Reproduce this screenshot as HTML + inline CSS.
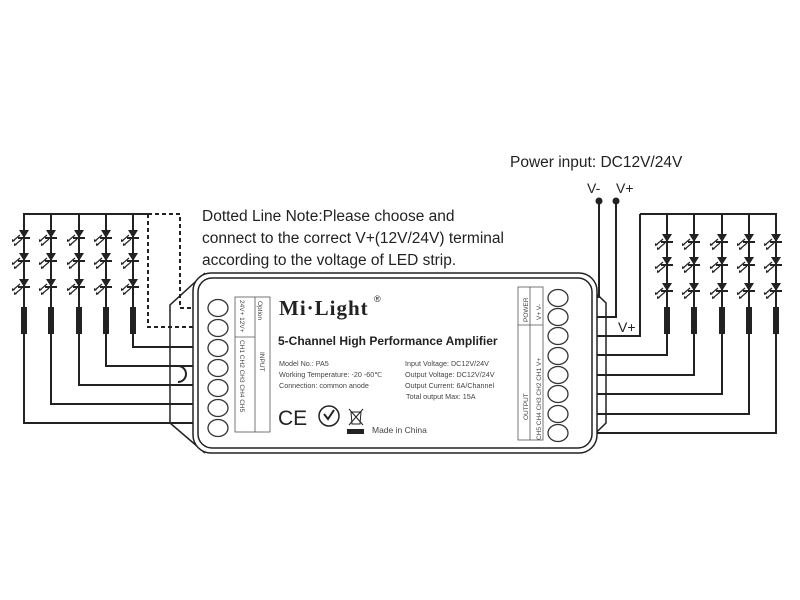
<!DOCTYPE html>
<html><head><meta charset="utf-8"><style>
html,body{margin:0;padding:0;background:#fff;}
svg{display:block;font-family:"Liberation Sans",sans-serif;}
</style></head><body>
<svg width="800" height="600" viewBox="0 0 800 600" xmlns="http://www.w3.org/2000/svg">
<defs>
<g id="led">
 <polygon points="-5,-6 5,-6 0,2" fill="#222"/>
 <line x1="-6" y1="2" x2="6" y2="2" stroke="#222" stroke-width="2"/>
 <line x1="-4" y1="-1" x2="-11" y2="5" stroke="#222" stroke-width="1.2"/>
 <line x1="-2" y1="3" x2="-9" y2="9" stroke="#222" stroke-width="1.2"/>
 <polygon points="-12,6 -12,3 -9,5" fill="#222"/>
 <polygon points="-10,10 -10,7 -7,9" fill="#222"/>
</g>
</defs>
<rect width="800" height="600" fill="#fff"/>
<g stroke="#222" stroke-width="2" fill="none">
 <line x1="23" y1="214" x2="148" y2="214"/>
 <path d="M133,214V347H195"/>
 <path d="M106,214V366H178 a8,8 0 0 1 0,16 M178,366H195"/>
 <path d="M79,214V385H195"/>
 <path d="M51,214V404H195"/>
 <path d="M24,214V423H195"/>
 <line x1="640" y1="214" x2="777" y2="214"/>
 <path d="M640,214V336H583"/>
 <path d="M667,214V355H583"/>
 <path d="M694,214V375H583"/>
 <path d="M722,214V394H583"/>
 <path d="M749,214V414H583"/>
 <path d="M776,214V433H583"/>
 <path d="M599,201V297H583"/>
 <path d="M616,201V317H583"/>
</g>
<g stroke="#222" stroke-width="2" fill="none" stroke-dasharray="4,3">
 <path d="M148,214H180V308H195"/>
 <path d="M148,214V327H195"/>
</g>
<g fill="#222">
 <rect x="21" y="307" width="6" height="27"/><rect x="48" y="307" width="6" height="27"/><rect x="76" y="307" width="6" height="27"/><rect x="103" y="307" width="6" height="27"/><rect x="130" y="307" width="6" height="27"/>
 <rect x="664" y="307" width="6" height="27"/><rect x="691" y="307" width="6" height="27"/><rect x="719" y="307" width="6" height="27"/><rect x="746" y="307" width="6" height="27"/><rect x="773" y="307" width="6" height="27"/>
 <circle cx="599" cy="201" r="3.5"/><circle cx="616" cy="201" r="3.5"/>
</g>
<g>
 <use href="#led" x="24" y="236"/><use href="#led" x="24" y="259"/><use href="#led" x="24" y="285"/>
 <use href="#led" x="51" y="236"/><use href="#led" x="51" y="259"/><use href="#led" x="51" y="285"/>
 <use href="#led" x="79" y="236"/><use href="#led" x="79" y="259"/><use href="#led" x="79" y="285"/>
 <use href="#led" x="106" y="236"/><use href="#led" x="106" y="259"/><use href="#led" x="106" y="285"/>
 <use href="#led" x="133" y="236"/><use href="#led" x="133" y="259"/><use href="#led" x="133" y="285"/>
 <use href="#led" x="667" y="240"/><use href="#led" x="667" y="263"/><use href="#led" x="667" y="289"/>
 <use href="#led" x="694" y="240"/><use href="#led" x="694" y="263"/><use href="#led" x="694" y="289"/>
 <use href="#led" x="722" y="240"/><use href="#led" x="722" y="263"/><use href="#led" x="722" y="289"/>
 <use href="#led" x="749" y="240"/><use href="#led" x="749" y="263"/><use href="#led" x="749" y="289"/>
 <use href="#led" x="776" y="240"/><use href="#led" x="776" y="263"/><use href="#led" x="776" y="289"/>
</g>
<g stroke="#222" stroke-width="1.5" fill="none">
 <path d="M205,273 L170,305 V423 L205,453"/>
 <path d="M575,273 L606,303 V423 L575,453"/>
 <path d="M592,360 a7,7 0 0 0 0,14" stroke-width="2"/>
</g>
<rect x="193" y="273" width="404" height="180" rx="18" fill="#fff" stroke="#222" stroke-width="1.5"/>
<rect x="198" y="278" width="394" height="170" rx="14" fill="none" stroke="#222" stroke-width="1.5"/>
<g fill="#fff" stroke="#333" stroke-width="1.3">
 <ellipse cx="218" cy="308" rx="10" ry="8.5"/><ellipse cx="218" cy="328" rx="10" ry="8.5"/><ellipse cx="218" cy="348" rx="10" ry="8.5"/><ellipse cx="218" cy="368" rx="10" ry="8.5"/><ellipse cx="218" cy="388" rx="10" ry="8.5"/><ellipse cx="218" cy="408" rx="10" ry="8.5"/><ellipse cx="218" cy="428" rx="10" ry="8.5"/>
 <ellipse cx="558" cy="298" rx="10" ry="8.5"/><ellipse cx="558" cy="317" rx="10" ry="8.5"/><ellipse cx="558" cy="336" rx="10" ry="8.5"/><ellipse cx="558" cy="356" rx="10" ry="8.5"/><ellipse cx="558" cy="375" rx="10" ry="8.5"/><ellipse cx="558" cy="394" rx="10" ry="8.5"/><ellipse cx="558" cy="414" rx="10" ry="8.5"/><ellipse cx="558" cy="433" rx="10" ry="8.5"/>
</g>
<g stroke="#555" stroke-width="0.8" fill="none">
 <rect x="235" y="297" width="35" height="135"/>
 <line x1="255" y1="297" x2="255" y2="432"/>
 <line x1="235" y1="337" x2="255" y2="337"/>
 <rect x="518" y="287" width="25" height="153"/>
 <line x1="530" y1="287" x2="530" y2="440"/>
 <line x1="518" y1="325" x2="543" y2="325"/>
</g>
<g font-size="6.5" fill="#444">
 <text transform="translate(240,300) rotate(90)">24V+ 12V+</text>
 <text transform="translate(258,301) rotate(90)">Option</text>
 <text transform="translate(240,340) rotate(90)">CH1   CH2   CH3   CH4   CH5</text>
 <text transform="translate(260,352) rotate(90)">INPUT</text>
 <text transform="translate(528,322) rotate(-90)">POWER</text>
 <text transform="translate(541,320) rotate(-90)">V+   V-</text>
 <text transform="translate(541,440) rotate(-90)">CH5 CH4 CH3 CH2 CH1  V+</text>
 <text transform="translate(528,420) rotate(-90)">OUTPUT</text>
</g>
<text x="279" y="315" font-family="Liberation Serif,serif" font-weight="bold" font-size="21" fill="#222" letter-spacing="1">Mi·Light</text>
<text x="374" y="302" font-size="9" fill="#222">®</text>
<text x="278" y="345" font-weight="bold" font-size="12" fill="#222">5-Channel High Performance Amplifier</text>
<g font-size="7.2" fill="#444">
 <text x="279" y="366">Model No.: PA5</text>
 <text x="279" y="377">Working Temperature: -20 -60℃</text>
 <text x="279" y="388">Connection: common anode</text>
 <text x="405" y="366">Input Voltage: DC12V/24V</text>
 <text x="405" y="377">Output Voltage: DC12V/24V</text>
 <text x="405" y="388">Output Current: 6A/Channel</text>
 <text x="406" y="399">Total output Max: 15A</text>
 <text x="372" y="433" font-size="8.5">Made in China</text>
</g>
<text x="278" y="425" font-size="21" fill="#222">CE</text>
<circle cx="329" cy="416" r="10" fill="none" stroke="#222" stroke-width="1.5"/>
<path d="M324,414 l4,5 l6,-9" stroke="#222" stroke-width="2" fill="none"/>
<rect x="347" y="429" width="17" height="5" fill="#222"/>
<path d="M349,409 l14,16 M363,409 l-14,16 M351,412 h10 l-1,12 h-8z" stroke="#222" stroke-width="1" fill="none"/>
<g font-size="15.5" fill="#222">
 <text x="202" y="221">Dotted Line Note:Please choose and</text>
 <text x="202" y="243">connect to the correct V+(12V/24V) terminal</text>
 <text x="202" y="265">according to the voltage of LED strip.</text>
 <text x="510" y="167">Power input: DC12V/24V</text>
 <text x="587" y="193" font-size="14">V-</text>
 <text x="616" y="193" font-size="14">V+</text>
 <text x="618" y="332" font-size="14">V+</text>
</g>
</svg>
</body></html>
